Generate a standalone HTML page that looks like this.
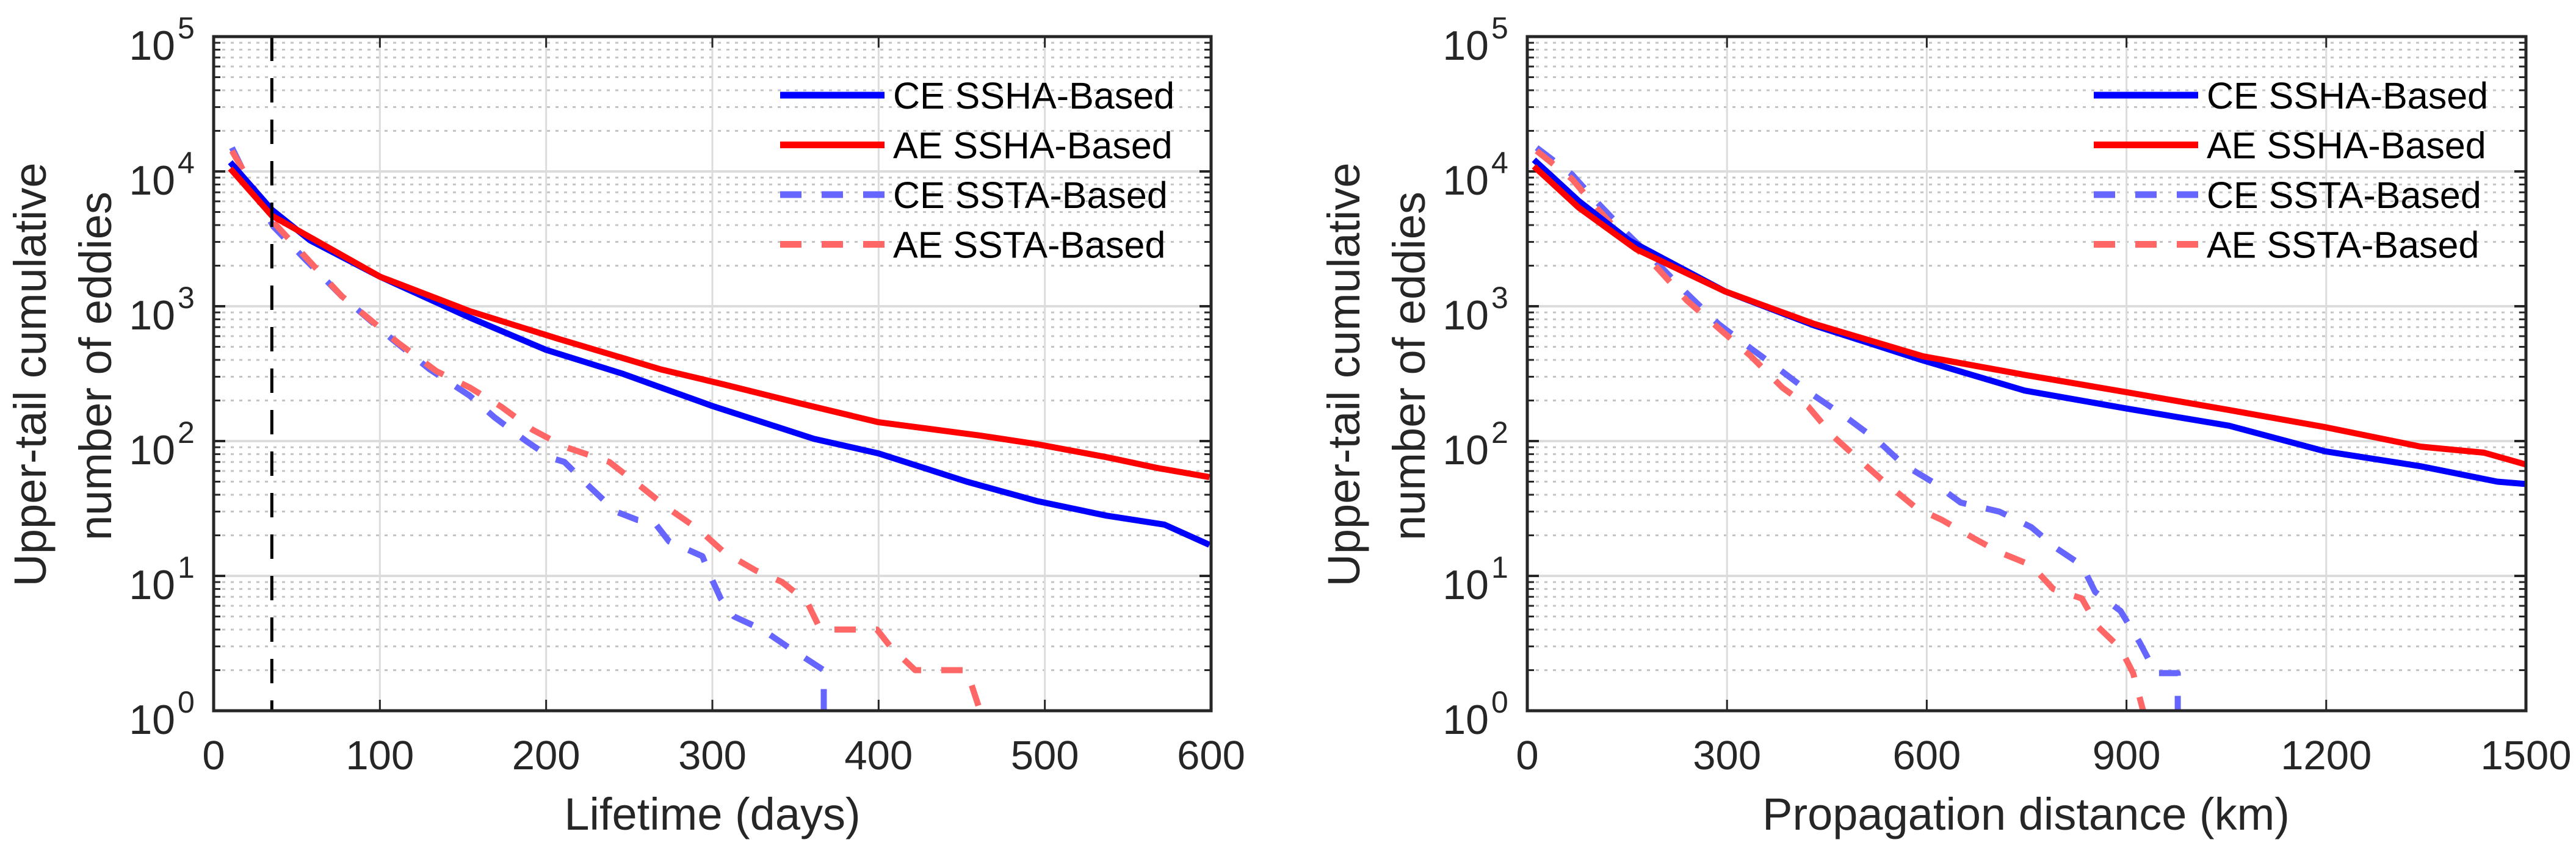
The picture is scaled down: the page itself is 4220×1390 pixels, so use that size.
<!DOCTYPE html>
<html><head><meta charset="utf-8"><style>
html,body{margin:0;padding:0;background:#fff;}
svg{display:block;font-family:"Liberation Sans",Arial,sans-serif;}
</style></head><body>
<svg id="fig" width="4220" height="1390" viewBox="0 0 4220 1390" xmlns="http://www.w3.org/2000/svg"></svg>
<script>
// ---- Left panel data (Lifetime, days) ----
const lifeCE_SSHA_x = [10,35,58,100,154,200,246,300,361,400,453,495,537,572,599];
const lifeCE_SSHA_y = [11700,5200,3080,1660,825,475,316,182,104,81,50,36,28,24,17];
const lifeAE_SSHA_x = [10,35,100,154,207,269,307,353,400,461,495,537,568,599];
const lifeAE_SSHA_y = [10500,4700,1660,920,575,340,263,190,138,110,95,76,63,54];
const lifeCE_SSTA_x = [11,23,36,54,77,107,130,154,169,188,203,211,226,242,255,265,274,294,298,305,313,330,345,367,367];
const lifeCE_SSTA_y = [15000,7500,3900,2300,1190,575,340,217,150,100,75,70,46,30,26,25,18,14,10.5,6.8,5,4,3,2,1];
const lifeAE_SSTA_x = [11,36,77,111,134,154,173,192,211,238,257,273,292,307,326,342,357,365,399,407,422,453,461];
const lifeAE_SSTA_y = [14200,4200,1190,535,330,250,180,121,91,70,46,32,22,15,11,9,6.4,4,4,3,2,2,1];
const lifeTicks = [0,100,200,300,400,500,600];
// ---- Right panel data (Propagation distance, km) ----
const distCE_SSHA_x = [10,77,153,297,431,594,747,901,1054,1198,1342,1457,1500];
const distCE_SSHA_y = [12200,6050,3080,1290,720,397,237,174,130,84,65,50,48];
const distAE_SSHA_x = [10,77,163,297,431,594,747,901,1054,1198,1342,1437,1500];
const distAE_SSHA_y = [10900,5400,2660,1290,740,426,310,230,170,127,91,82,67];
const distCE_SSTA_x = [14,67,105,149,192,240,287,335,383,431,479,527,565,608,651,709,757,795,833,853,891,920,944,977,977];
const distCE_SSTA_y = [15000,9500,5900,3500,2170,1240,740,490,328,217,150,100,67,50,35,30,23,16,12,7.6,5.5,3.2,1.9,1.9,1];
const distAE_SSTA_x = [14,67,105,149,192,240,287,335,383,422,460,498,536,584,623,671,709,757,790,833,857,891,910,925];
const distAE_SSTA_y = [14200,8800,5300,3100,2000,1100,690,430,250,180,108,73,50,32,26,19,15,12,8,6.8,4.2,2.9,1.9,1];
const distTicks = [0,300,600,900,1200,1500];
const yExps = [0,1,2,3,4,5];
const legendLabels = ["CE SSHA-Based","AE SSHA-Based","CE SSTA-Based","AE SSTA-Based"];
const cutoffDay = 35;

const NS="http://www.w3.org/2000/svg";
const svg=document.getElementById('fig');
function mk(tag,attrs,parent){const e=document.createElementNS(NS,tag);for(const k in attrs)e.setAttribute(k,attrs[k]);(parent||svg).appendChild(e);return e;}

const TOP=60,BOT=1165,DEC=(BOT-TOP)/5;
function yScale(v){return BOT-Math.log10(v)*DEC;}

function panel(name,L,R,xmax,ticks,series,xlabel,xlabelW){
  const g=mk('g',{});
  
  
  const xs=v=>L+(v/xmax)*(R-L);
  // minor grid
  for(let d=0;d<5;d++)for(let m=2;m<=9;m++){
    const y=yScale(Math.pow(10,d)*m);
    const l=mk('line',{x1:L,x2:R,y1:y,y2:y,stroke:'#c4c4c4','stroke-width':3,'stroke-dasharray':'5 9'},g);
    
    
    const t1=mk('line',{x1:L,x2:L+11,y1:y,y2:y,stroke:'#262626','stroke-width':3},g);
    
    
    const t2=mk('line',{x1:R,x2:R-11,y1:y,y2:y,stroke:'#262626','stroke-width':3},g);
    
    
  }
  // major y grid + labels
  yExps.forEach(e=>{
    const y=yScale(Math.pow(10,e));
    const l=mk('line',{x1:L,x2:R,y1:y,y2:y,stroke:'#dcdcdc','stroke-width':4},g);
    
    
    mk('line',{x1:L,x2:L+19,y1:y,y2:y,stroke:'#262626','stroke-width':4},g);
    mk('line',{x1:R,x2:R-19,y1:y,y2:y,stroke:'#262626','stroke-width':4},g);
    const t=mk('text',{x:L-63,y:y+38,'font-size':68,'text-anchor':'end',fill:'#262626'},g);
    t.textContent='10';
    
    
    const s=mk('text',{x:L-59,y:y+3,'font-size':50,fill:'#262626'},g);
    s.textContent=String(e);
    
    
  });
  // x grid + ticks
  ticks.forEach(v=>{
    const x=xs(v);
    const l=mk('line',{x1:x,x2:x,y1:TOP,y2:BOT,stroke:'#dcdcdc','stroke-width':3},g);
    
    
    mk('line',{x1:x,x2:x,y1:BOT,y2:BOT-18,stroke:'#262626','stroke-width':3},g);
    mk('line',{x1:x,x2:x,y1:TOP,y2:TOP+18,stroke:'#262626','stroke-width':3},g);
    const t=mk('text',{x:x,y:1261,'font-size':67,'text-anchor':'middle',fill:'#262626'},g);
    t.textContent=String(v);
    
    
  });
  // series
  series.forEach(s=>{
    const pts=s.x.map((v,i)=>xs(v).toFixed(1)+','+yScale(s.y[i]).toFixed(1)).join(' ');
    const a={points:pts,fill:'none',stroke:s.c,'stroke-width':10,'stroke-linejoin':'round'};
    if(s.dash)a['stroke-dasharray']='35 33';
    const p=mk('polyline',a,g);
    
    
  });
  return {g,xs};
}

const colors=['#0000ff','#ff0000','#6666ff','#ff6666'];
const left=panel('lifetime-panel',350,1984,600,lifeTicks,[
  {x:lifeCE_SSTA_x,y:lifeCE_SSTA_y,c:colors[2],dash:true,n:'ce-ssta-line'},
  {x:lifeAE_SSTA_x,y:lifeAE_SSTA_y,c:colors[3],dash:true,n:'ae-ssta-line'},
  {x:lifeCE_SSHA_x,y:lifeCE_SSHA_y,c:colors[0],n:'ce-ssha-line'},
  {x:lifeAE_SSHA_x,y:lifeAE_SSHA_y,c:colors[1],n:'ae-ssha-line'}
]);
const vl=mk('line',{x1:left.xs(cutoffDay),x2:left.xs(cutoffDay),y1:TOP,y2:BOT,stroke:'#000','stroke-width':5,'stroke-dasharray':'40 28'},left.g);


const right=panel('distance-panel',2502,4138,1500,distTicks,[
  {x:distCE_SSTA_x,y:distCE_SSTA_y,c:colors[2],dash:true,n:'ce-ssta-line'},
  {x:distAE_SSTA_x,y:distAE_SSTA_y,c:colors[3],dash:true,n:'ae-ssta-line'},
  {x:distCE_SSHA_x,y:distCE_SSHA_y,c:colors[0],n:'ce-ssha-line'},
  {x:distAE_SSHA_x,y:distAE_SSHA_y,c:colors[1],n:'ae-ssha-line'}
]);

[[350,1984,left,'Lifetime (days)',1167],[2502,4138,right,'Propagation distance (km)',3319]].forEach(([L,R,p,lab,cx])=>{
  const g=p.g;
  const box=mk('rect',{x:L,y:TOP,width:R-L,height:BOT-TOP,fill:'none',stroke:'#262626','stroke-width':5},g);
  
  
  const xl=mk('text',{x:cx,y:1360,'font-size':74,'text-anchor':'middle',fill:'#262626'},g);
  xl.textContent=lab;
  
  
  const off=L-350;
  const y1=mk('text',{transform:'translate('+(75+off)+',614) rotate(-90)','font-size':74,'text-anchor':'middle',fill:'#262626'},g);
  y1.textContent='Upper-tail cumulative';
  
  
  const y2=mk('text',{transform:'translate('+(182+off)+',600) rotate(-90)','font-size':74,'text-anchor':'middle',fill:'#262626'},g);
  y2.textContent='number of eddies';
  
  
  // legend
  const lg=mk('g',{},g);
  
  
  const lx=L+928;
  legendLabels.forEach((t,i)=>{
    const ry=156+i*81.5;
    const a={x1:lx,x2:lx+171,y1:ry,y2:ry,stroke:colors[i],'stroke-width':11};
    if(i>=2)a['stroke-dasharray']='35 33';
    const ln=mk('line',a,lg);
    
    
    const tx=mk('text',{x:lx+185,y:ry+22,'font-size':61,fill:'#000'},lg);
    tx.textContent=t;
    
    
  });
});
</script>
</body></html>
